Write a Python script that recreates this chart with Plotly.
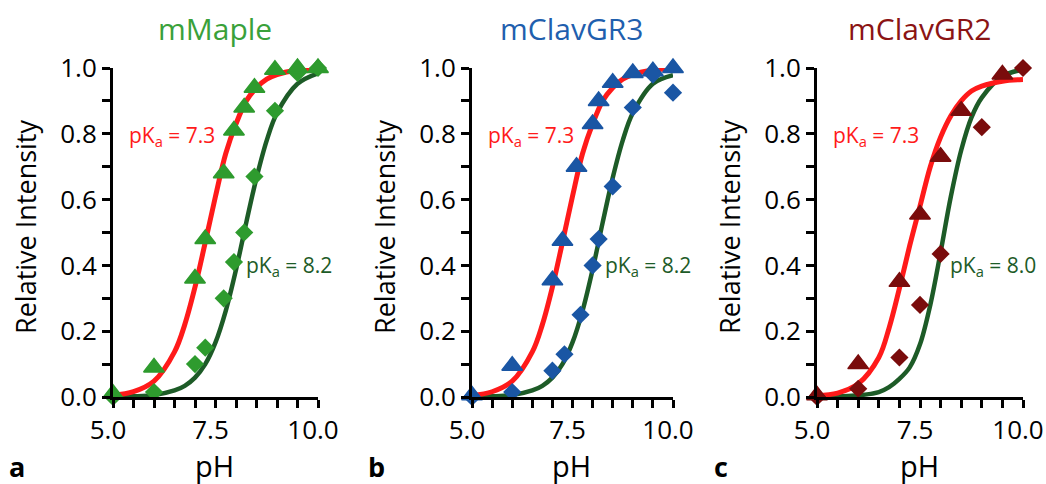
import plotly.graph_objects as go

# ---------------- data ----------------
panel_titles = ["mMaple", "mClavGR3", "mClavGR2"]
panel_letters = ["a", "b", "c"]
marker_colors = ["#2E9B2E", "#1A56A4", "#7A0C0C"]
title_colors = ["#3AA13A", "#1F5FAE", "#8B1414"]

# triangles (red fit) and diamonds (green fit)
tri_ph_a = [5.0, 6.0, 7.0, 7.25, 7.7, 7.95, 8.2, 8.45, 8.95, 9.5, 10.0]
tri_val_a = [0.01, 0.09, 0.36, 0.48, 0.68, 0.81, 0.88, 0.94, 0.995, 1.0, 1.0]
dia_ph_a = [5.0, 6.0, 7.0, 7.25, 7.7, 7.95, 8.2, 8.45, 8.95, 9.5, 10.0]
dia_val_a = [0.0, 0.015, 0.10, 0.15, 0.30, 0.41, 0.50, 0.67, 0.87, 0.985, 1.0]

tri_ph_b = [5.0, 6.0, 7.0, 7.25, 7.6, 8.0, 8.15, 8.5, 9.0, 9.5, 10.0]
tri_val_b = [0.005, 0.095, 0.355, 0.475, 0.70, 0.83, 0.90, 0.955, 0.985, 0.99, 1.0]
dia_ph_b = [5.0, 6.0, 7.0, 7.3, 7.7, 8.0, 8.15, 8.5, 9.0, 9.5, 10.0]
dia_val_b = [0.0, 0.015, 0.08, 0.13, 0.25, 0.40, 0.48, 0.64, 0.88, 0.98, 0.925]

tri_ph_c = [5.0, 6.0, 7.0, 7.5, 8.0, 8.5, 9.5]
tri_val_c = [0.005, 0.10, 0.35, 0.555, 0.73, 0.87, 0.98]
dia_ph_c = [5.0, 6.0, 7.0, 7.5, 8.0, 9.0, 10.0]
dia_val_c = [0.0, 0.025, 0.12, 0.28, 0.435, 0.82, 1.0]

# fitted curves on a pH grid
curve_ph = [5.0, 5.5, 6.0, 6.5, 6.75, 7.0, 7.25, 7.5, 7.75, 8.0, 8.25, 8.5, 8.75, 9.0, 9.5, 10.0]
red_fit_a = [0.005, 0.016, 0.048, 0.137, 0.22, 0.334, 0.47, 0.61, 0.74, 0.83, 0.90, 0.94, 0.966, 0.98, 0.994, 0.998]
green_fit_a = [0.001, 0.002, 0.006, 0.02, 0.034, 0.059, 0.10, 0.166, 0.262, 0.387, 0.53, 0.666, 0.78, 0.863, 0.952, 0.984]
red_fit_b = [0.005, 0.016, 0.048, 0.137, 0.22, 0.334, 0.47, 0.61, 0.74, 0.83, 0.90, 0.94, 0.966, 0.98, 0.994, 0.998]
green_fit_b = [0.001, 0.002, 0.006, 0.02, 0.034, 0.059, 0.10, 0.166, 0.262, 0.387, 0.53, 0.666, 0.78, 0.863, 0.952, 0.978]
red_fit_c = [0.005, 0.012, 0.04, 0.12, 0.21, 0.33, 0.46, 0.58, 0.70, 0.79, 0.855, 0.90, 0.93, 0.945, 0.96, 0.965]
green_fit_c = [0.0, 0.002, 0.005, 0.015, 0.03, 0.055, 0.09, 0.16, 0.28, 0.44, 0.61, 0.75, 0.85, 0.91, 0.975, 0.995]

pka_red = ["7.3", "7.3", "7.3"]
pka_green = ["8.2", "8.2", "8.0"]

x_tickvals = [5.0, 7.5, 10.0]
x_ticktext = ["5.0", "7.5", "10.0"]
y_tickvals = [0.0, 0.2, 0.4, 0.6, 0.8, 1.0]
y_ticktext = ["0.0", "0.2", "0.4", "0.6", "0.8", "1.0"]
x_minor_step = 0.5
y_minor_step = 0.1

# ---------------- figure ----------------
W, H = 1046, 484
FONT = "Open Sans"
RED = "#FF1A1A"
DKGREEN = "#1D5B27"

panels = [
    (tri_ph_a, tri_val_a, dia_ph_a, dia_val_a, red_fit_a, green_fit_a),
    (tri_ph_b, tri_val_b, dia_ph_b, dia_val_b, red_fit_b, green_fit_b),
    (tri_ph_c, tri_val_c, dia_ph_c, dia_val_c, red_fit_c, green_fit_c),
]
x_px = [(113, 318), (472, 673), (817, 1023)]
y_top, y_bot = 68, 397

fig = go.Figure()
annotations = []
for i, (tp, tv, dp, dv, rf, gf) in enumerate(panels):
    xa = "x" if i == 0 else f"x{i+1}"
    ya = "y" if i == 0 else f"y{i+1}"
    fig.add_trace(go.Scatter(x=curve_ph, y=gf, mode="lines", line=dict(color=DKGREEN, width=4.5, shape="spline"),
                             xaxis=xa, yaxis=ya, showlegend=False, hoverinfo="skip", cliponaxis=False))
    fig.add_trace(go.Scatter(x=curve_ph, y=rf, mode="lines", line=dict(color=RED, width=5, shape="spline"),
                             xaxis=xa, yaxis=ya, showlegend=False, hoverinfo="skip", cliponaxis=False))
    fig.add_trace(go.Scatter(x=dp, y=dv, mode="markers",
                             marker=dict(symbol="diamond", size=14, color=marker_colors[i],
                                         line=dict(width=0)),
                             xaxis=xa, yaxis=ya, showlegend=False, cliponaxis=False))
    fig.add_trace(go.Scatter(x=tp, y=tv, mode="markers",
                             marker=dict(symbol="triangle-up", size=18, color=marker_colors[i],
                                         line=dict(width=1.5, color=marker_colors[i])),
                             xaxis=xa, yaxis=ya, showlegend=False, cliponaxis=False))
    x0, x1 = x_px[i]
    dom = [x0 / W, x1 / W]
    axis_common = dict(showline=True, linewidth=3, linecolor="black", ticks="outside", ticklen=8,
                       tickwidth=3, tickcolor="black", showgrid=False, zeroline=False, automargin=False,
                       tickfont=dict(family=FONT, size=26, color="black"), fixedrange=True)
    minor_common = dict(ticks="outside", ticklen=8, tickwidth=3, tickcolor="black", showgrid=False)
    fig.update_layout({
        ("xaxis" if i == 0 else f"xaxis{i+1}"): dict(domain=dom, range=[5, 10], anchor=ya,
                                                     tickvals=x_tickvals, ticktext=x_ticktext,
                                                     minor=dict(tick0=5, dtick=x_minor_step, **minor_common),
                                                     ticklabelshift=-5, **axis_common),
        ("yaxis" if i == 0 else f"yaxis{i+1}"): dict(domain=[(H - y_bot) / H, (H - y_top) / H], range=[0, 1],
                                                     anchor=xa, tickvals=y_tickvals, ticktext=y_ticktext,
                                                     minor=dict(tick0=0, dtick=y_minor_step, **minor_common),
                                                     **axis_common),
    })
    cx = (x0 + x1) / 2
    annotations.append(dict(text=panel_titles[i], x=(cx - 1) / W, y=(H - 29) / H, xref="paper", yref="paper",
                            showarrow=False, xanchor="center", yanchor="middle",
                            font=dict(family=FONT, size=30, color=title_colors[i])))
    annotations.append(dict(text="pH", x=(cx - 1) / W, y=(H - 465) / H, xref="paper", yref="paper",
                            showarrow=False, xanchor="center", yanchor="middle",
                            font=dict(family=FONT, size=29, color="black")))
    annotations.append(dict(text="Relative Intensity", x=(x0 - 88) / W, y=(H - 227) / H, xref="paper",
                            yref="paper", showarrow=False, xanchor="center", yanchor="middle", textangle=-90,
                            font=dict(family=FONT, size=27, color="black")))
    annotations.append(dict(text="<b>" + panel_letters[i] + "</b>", x=(x0 - 96) / W, y=(H - 466) / H,
                            xref="paper", yref="paper", showarrow=False, xanchor="center", yanchor="middle",
                            font=dict(family=FONT, size=27, color="black")))
    annotations.append(dict(text="pK<sub>a</sub> = " + pka_red[i], x=(x0 + 59) / W, y=(H - 136) / H,
                            xref="paper", yref="paper", showarrow=False, xanchor="center", yanchor="middle",
                            font=dict(family=FONT, size=21, color=RED)))
    annotations.append(dict(text="pK<sub>a</sub> = " + pka_green[i], x=(x0 + 176) / W, y=(H - 266) / H,
                            xref="paper", yref="paper", showarrow=False, xanchor="center", yanchor="middle",
                            font=dict(family=FONT, size=21, color=DKGREEN)))

fig.update_layout(width=W, height=H, margin=dict(l=0, r=0, t=0, b=0, autoexpand=False), plot_bgcolor="white",
                  paper_bgcolor="white", annotations=annotations, showlegend=False)
fig.write_html("out.html", config={"displayModeBar": False})
